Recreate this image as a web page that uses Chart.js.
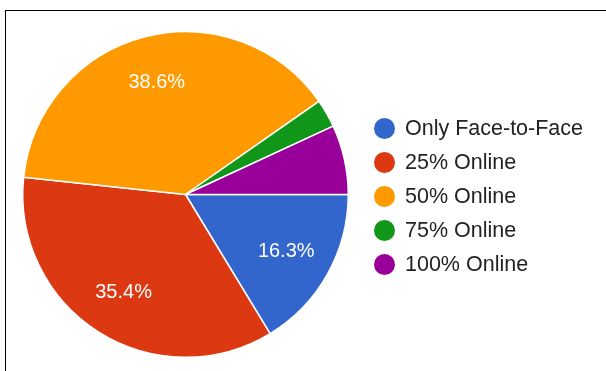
<!DOCTYPE html>
<html>
<head>
<meta charset="utf-8">
<script src="https://cdn.jsdelivr.net/npm/chart.js@4/dist/chart.umd.min.js"></script>
<style>
  html, body { margin: 0; padding: 0; background: #fff; }
  #wrap { position: relative; width: 606px; height: 371px; overflow: hidden; }
  #frame {
    position: absolute; left: 5px; top: 10px; right: -2px; bottom: -2px;
    border-top: 1.5px solid #000; border-left: 1.5px solid #000;
  }
  #pie { position: absolute; left: 0; top: 0; }
  #legend {
    position: absolute; left: 374px; top: 111px;
    font-family: Arial, "Liberation Sans", sans-serif; font-size: 21.5px; color: #222;
  }
  .item { display: flex; align-items: center; height: 34px; white-space: nowrap; }
  .dot { width: 21px; height: 21px; border-radius: 50%; margin-right: 10px; flex: none; }
</style>
</head>
<body>
<div id="wrap">
  <div id="frame"></div>
  <canvas id="pie" width="606" height="371"></canvas>
  <div id="legend"></div>
</div>
<script>
const categories = ['Only Face-to-Face', '25% Online', '50% Online', '75% Online', '100% Online'];
const shares = [16.3, 35.4, 38.6, 2.8, 6.9];
const colors = ['#3366cc', '#dc3912', '#ff9900', '#109618', '#990099'];

// percent text inside the larger slices
const sliceLabels = {
    id: 'sliceLabels',
    afterDatasetsDraw(chart) {
        const ctx = chart.ctx;
        const meta = chart.getDatasetMeta(0);
        ctx.save();
        ctx.font = '20px Arial, "Liberation Sans", sans-serif';
        ctx.fillStyle = '#fff';
        ctx.textAlign = 'center';
        ctx.textBaseline = 'middle';
        meta.data.forEach((arc, i) => {
            const v = shares[i];
            if (v < 10) return;
            const { x, y, startAngle, endAngle, outerRadius } = arc.getProps(['x', 'y', 'startAngle', 'endAngle', 'outerRadius'], true);
            const mid = (startAngle + endAngle) / 2;
            const r = outerRadius * 0.71;
            ctx.fillText(v.toFixed(1) + '%', x + Math.cos(mid) * r, y + Math.sin(mid) * r);
        });
        ctx.restore();
    }
};

new Chart(document.getElementById('pie'), {
    type: 'pie',
    data: {
        labels: categories,
        datasets: [{
            data: shares,
            backgroundColor: colors,
            borderColor: '#fff',
            borderWidth: 1.5,
        }]
    },
    options: {
        responsive: false,
        animation: false,
        rotation: 90,
        layout: { padding: { left: 22, top: 31, right: 257, bottom: 13 } },
        plugins: {
            legend: { display: false },
            tooltip: { enabled: false }
        }
    },
    plugins: [sliceLabels]
});

const legend = document.getElementById('legend');
categories.forEach((name, i) => {
    const row = document.createElement('div');
    row.className = 'item';
    const dot = document.createElement('span');
    dot.className = 'dot';
    dot.style.background = colors[i];
    row.appendChild(dot);
    row.appendChild(document.createTextNode(name));
    legend.appendChild(row);
});
</script>
</body>
</html>
